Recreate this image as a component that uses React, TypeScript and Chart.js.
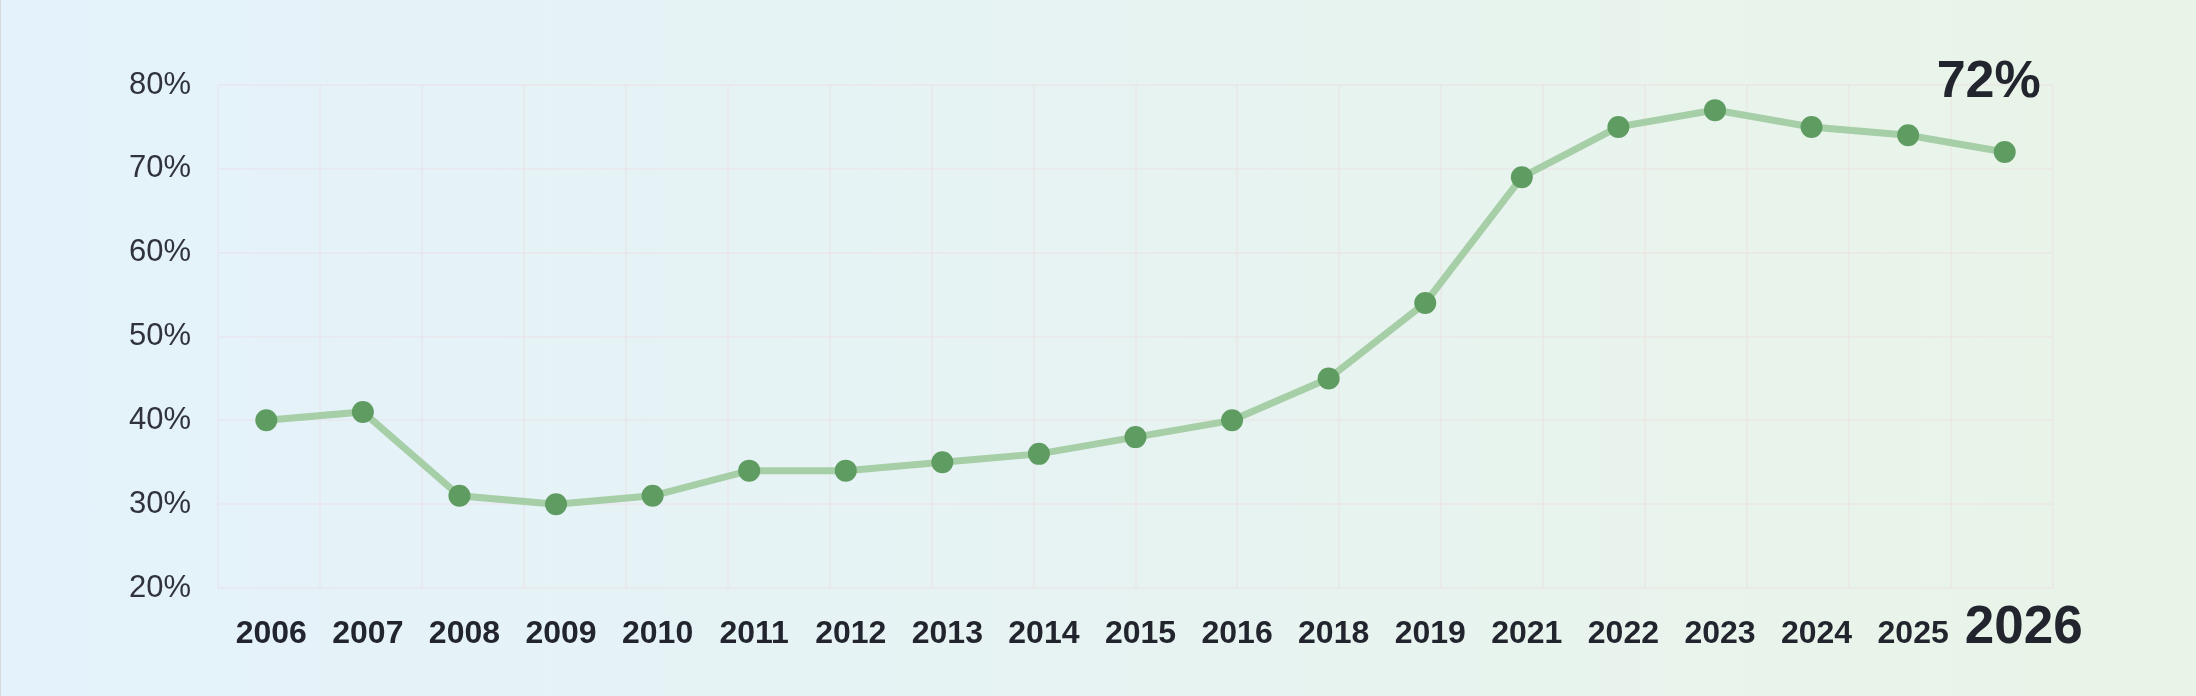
import React, { useEffect, useRef } from "react";
import { Chart, registerables } from "chart.js";

Chart.register(...registerables);

const years: string[] = [
  "2006", "2007", "2008", "2009", "2010", "2011", "2012", "2013", "2014", "2015",
  "2016", "2018", "2019", "2021", "2022", "2023", "2024", "2025", "2026",
];
const shares: number[] = [40, 41, 31, 30, 31, 34, 34, 35, 36, 38, 40, 45, 54, 69, 75, 77, 75, 74, 72];
const yTicks: number[] = [20, 30, 40, 50, 60, 70, 80];

const FONT = '"Liberation Sans", Arial, Helvetica, sans-serif';

const lastLabelPlugin = {
  id: "lastLabel",
  beforeDraw(chart: any) {
    // nudge the highlighted last category label a little to the right, as in the reference
    const xs = chart.scales.x;
    if (!xs) return;
    const items = xs.getLabelItems(chart.chartArea);
    const it = items && items[items.length - 1];
    if (it && !it.__nudged) {
      it.options.translation = [it.options.translation[0] + 14, it.options.translation[1]];
      it.__nudged = true;
    }
  },
  afterDatasetsDraw(chart: any) {
    const meta = chart.getDatasetMeta(0);
    const last = meta.data.length - 1;
    const pt = meta.data[last];
    if (!pt) return;
    const ctx = chart.ctx;
    ctx.save();
    ctx.font = `bold 52px ${FONT}`;
    ctx.fillStyle = "#22252e";
    ctx.textAlign = "center";
    ctx.textBaseline = "alphabetic";
    ctx.fillText(`${shares[last]}%`, pt.x - 16, pt.y - 55);
    ctx.restore();
  },
};

export default function App() {
  const canvasRef = useRef<HTMLCanvasElement | null>(null);

  useEffect(() => {
    document.body.style.margin = "0";
    const canvas = canvasRef.current;
    if (!canvas) return;
    Chart.defaults.font.family = FONT;
    const lastIdx = years.length - 1;
    const gridColor = "rgba(240, 200, 210, 0.2)";
    const chart = new Chart(canvas, {
      type: "line",
      data: {
        labels: years,
        datasets: [
          {
            data: shares,
            borderColor: "#a6cea7",
            borderWidth: 7,
            backgroundColor: "#5f9c62",
            pointBackgroundColor: "#5f9c62",
            pointBorderColor: "#5f9c62",
            pointBorderWidth: 0,
            pointRadius: 11,
            tension: 0,
            fill: false,
          },
        ],
      },
      options: {
        responsive: false,
        animation: false,
        layout: { padding: { left: 0, right: 144, top: 85, bottom: 0 } },
        plugins: {
          legend: { display: false },
          tooltip: { enabled: false },
        },
        scales: {
          x: {
            type: "category",
            offset: true,
            grid: { display: false, drawTicks: false },
            border: { display: false },
            ticks: {
              autoSkip: false,
              maxRotation: 0,
              minRotation: 0,
              padding: 10,
              labelOffset: 5,
              color: "#22252e",
              font: (c: any) =>
                c.index === lastIdx
                  ? { size: 53, weight: "bold", lineHeight: 1.132 }
                  : { size: 32, weight: "bold", lineHeight: 2.25 },
            },
            afterFit: (s: any) => {
              s.height = 108;
            },
          },
          xg: {
            type: "linear",
            position: "bottom",
            min: 0,
            max: years.length - 1,
            ticks: { display: false, stepSize: 1, maxTicksLimit: 100 },
            grid: { color: gridColor, lineWidth: 2, drawTicks: false },
            border: { display: false },
            afterFit: (s: any) => {
              s.height = 0;
            },
          },
          y: {
            min: yTicks[0],
            max: yTicks[yTicks.length - 1],
            ticks: {
              stepSize: 10,
              padding: 27,
              color: "#30333d",
              font: { size: 31 },
              callback: (v: any) => `${v}%`,
            },
            grid: { color: gridColor, lineWidth: 2, drawTicks: false },
            border: { display: false },
            afterFit: (s: any) => {
              s.width = 217;
            },
          },
        },
      },
      plugins: [lastLabelPlugin],
    } as any);
    return () => chart.destroy();
  }, []);

  return (
    <div
      style={{
        position: "absolute",
        left: 0,
        top: 0,
        width: 2196,
        height: 696,
        boxSizing: "border-box",
        borderLeft: "1px solid #d6dadd",
        background: "linear-gradient(to right, #e4f2fb 0%, #e7f3f2 50%, #e9f4e7 100%)",
      }}
    >
      <canvas
        ref={canvasRef}
        width={2196}
        height={696}
        style={{ position: "absolute", left: 0, top: 0, width: 2196, height: 696 }}
      />
    </div>
  );
}
